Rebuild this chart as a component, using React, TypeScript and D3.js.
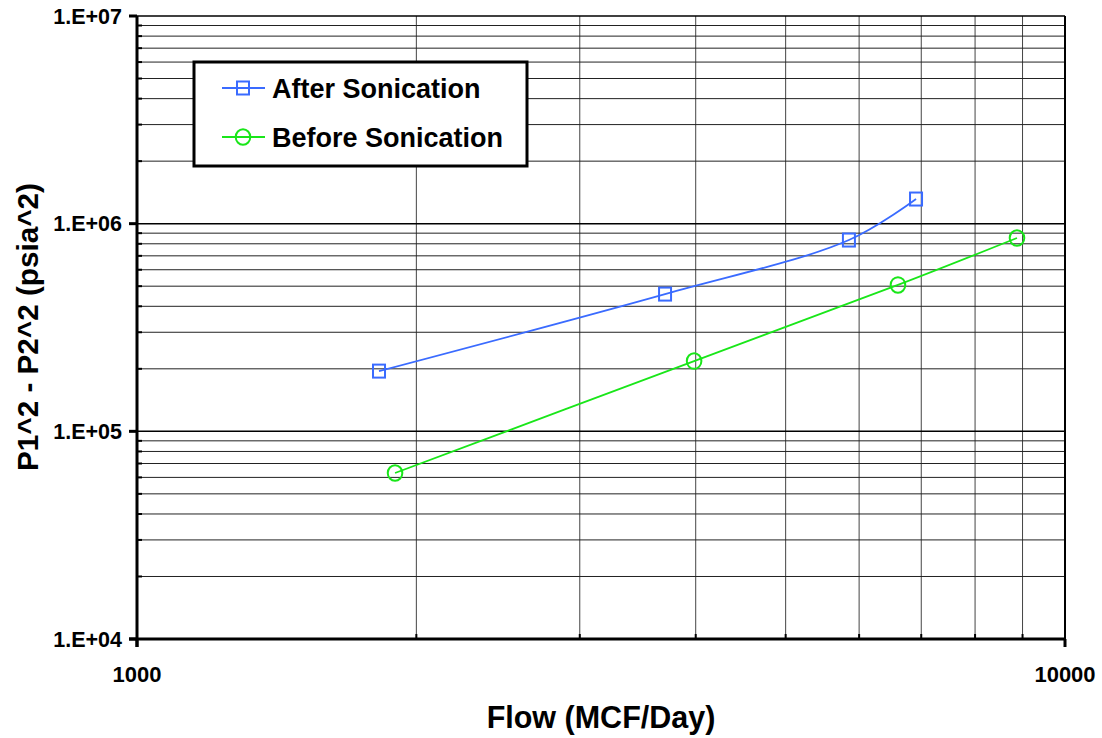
import React from "react";
import * as d3 from "d3";

const afterFlow = [1823, 3707, 5850, 6910];
const afterDp = [195000, 458000, 834000, 1314000];
const beforeFlow = [1897, 3984, 6607, 8877];
const beforeDp = [63000, 218000, 507000, 853000];
const yTickValues = [1e4, 1e5, 1e6, 1e7];
const yTickLabels = ["1.E+04", "1.E+05", "1.E+06", "1.E+07"];
const xTickValues = [1000, 10000];
const xTickLabels = ["1000", "10000"];
const seriesNames = ["After Sonication", "Before Sonication"];

const W = 1102, H = 738;
const L = 137, R = 1065, T = 16, B = 639;
const FONT = "'Liberation Sans', Arial, sans-serif";
const BLUE = "#3a6bff";
const GREEN = "#19e619";

export default function App() {
  const x = d3.scaleLog().domain([1000, 10000]).range([L, R]);
  const y = d3.scaleLog().domain([1e4, 1e7]).range([B, T]);

  const minorX: number[] = [];
  for (let k = 2; k <= 9; k++) minorX.push(k * 1000);
  const minorY: number[] = [];
  [1e4, 1e5, 1e6].forEach((d) => {
    for (let k = 2; k <= 9; k++) minorY.push(k * d);
  });

  const line = d3
    .line<[number, number]>()
    .x((d) => x(d[0]))
    .y((d) => y(d[1]))
    .curve(d3.curveCatmullRom.alpha(0.5));

  const afterPts = afterFlow.map((f, i) => [f, afterDp[i]] as [number, number]);
  const beforePts = beforeFlow.map((f, i) => [f, beforeDp[i]] as [number, number]);

  return (
    <svg width={W} height={H} style={{ position: "absolute", left: 0, top: 0, background: "#fff" }}>
      {/* grid */}
      {minorX.map((v) => (
        <line key={"gx" + v} x1={x(v)} x2={x(v)} y1={T} y2={B} stroke="#444" strokeWidth={1} />
      ))}
      {minorY.map((v) => (
        <line key={"gy" + v} x1={L} x2={R} y1={y(v)} y2={y(v)} stroke="#222" strokeWidth={1} />
      ))}
      {yTickValues.map((v) => (
        <line key={"gM" + v} x1={L} x2={R} y1={y(v)} y2={y(v)} stroke="#000" strokeWidth={1.5} />
      ))}
      <line x1={R} x2={R} y1={T} y2={B} stroke="#000" strokeWidth={2} />
      {/* minor ticks */}
      {minorY.map((v) => (
        <line key={"ty" + v} x1={L} x2={L + 5} y1={y(v)} y2={y(v)} stroke="#000" strokeWidth={2} />
      ))}
      {minorX.map((v) => (
        <line key={"tx" + v} x1={x(v)} x2={x(v)} y1={B} y2={B - 5} stroke="#000" strokeWidth={2} />
      ))}
      {/* axes */}
      <line x1={L} x2={L} y1={T} y2={B + 8} stroke="#000" strokeWidth={3} />
      <line x1={L - 8} x2={R} y1={B} y2={B} stroke="#000" strokeWidth={3} />
      {yTickValues.map((v) => (
        <line key={"my" + v} x1={L - 8} x2={L} y1={y(v)} y2={y(v)} stroke="#000" strokeWidth={3} />
      ))}
      {xTickValues.map((v) => (
        <line key={"mx" + v} x1={x(v)} x2={x(v)} y1={B} y2={B + 8} stroke="#000" strokeWidth={3} />
      ))}
      {/* tick labels */}
      {yTickValues.map((v, i) => (
        <text key={"yl" + v} x={L - 15} y={y(v)} dy="0.36em" textAnchor="end"
          fontFamily={FONT} fontWeight="bold" fontSize={21.5}>{yTickLabels[i]}</text>
      ))}
      {xTickValues.map((v, i) => (
        <text key={"xl" + v} x={x(v)} y={682} textAnchor="middle"
          fontFamily={FONT} fontWeight="bold" fontSize={22}>{xTickLabels[i]}</text>
      ))}
      {/* titles */}
      <text x={601} y={728} textAnchor="middle" fontFamily={FONT} fontWeight="bold" fontSize={30.5}>
        Flow (MCF/Day)
      </text>
      <text transform={`translate(38,327) rotate(-90)`} textAnchor="middle"
        fontFamily={FONT} fontWeight="bold" fontSize={29.7}>
        P1^2 - P2^2 (psia^2)
      </text>
      {/* series */}
      <path d={line(afterPts) || ""} fill="none" stroke={BLUE} strokeWidth={1.8} />
      <path d={line(beforePts) || ""} fill="none" stroke={GREEN} strokeWidth={1.8} />
      {afterPts.map((p, i) => (
        <rect key={"a" + i} x={x(p[0]) - 6} y={y(p[1]) - 6.5} width={12} height={13}
          fill="none" stroke={BLUE} strokeWidth={2} />
      ))}
      {beforePts.map((p, i) => (
        <ellipse key={"b" + i} cx={x(p[0])} cy={y(p[1])} rx={7.3} ry={7.8}
          fill="none" stroke={GREEN} strokeWidth={2} />
      ))}
      {/* legend */}
      <rect x={194} y={62} width={333} height={104} fill="#fff" stroke="#000" strokeWidth={3} />
      <line x1={222} x2={265} y1={88} y2={88} stroke={BLUE} strokeWidth={1.8} />
      <rect x={237} y={81.5} width={12} height={13} fill="none" stroke={BLUE} strokeWidth={2} />
      <text x={272} y={88} dy="0.36em" fontFamily={FONT} fontWeight="bold" fontSize={27}>
        {seriesNames[0]}
      </text>
      <line x1={222} x2={265} y1={137} y2={137} stroke={GREEN} strokeWidth={1.8} />
      <ellipse cx={243} cy={137} rx={7.3} ry={7.8} fill="none" stroke={GREEN} strokeWidth={2} />
      <text x={272} y={137} dy="0.36em" fontFamily={FONT} fontWeight="bold" fontSize={27}>
        {seriesNames[1]}
      </text>
    </svg>
  );
}
